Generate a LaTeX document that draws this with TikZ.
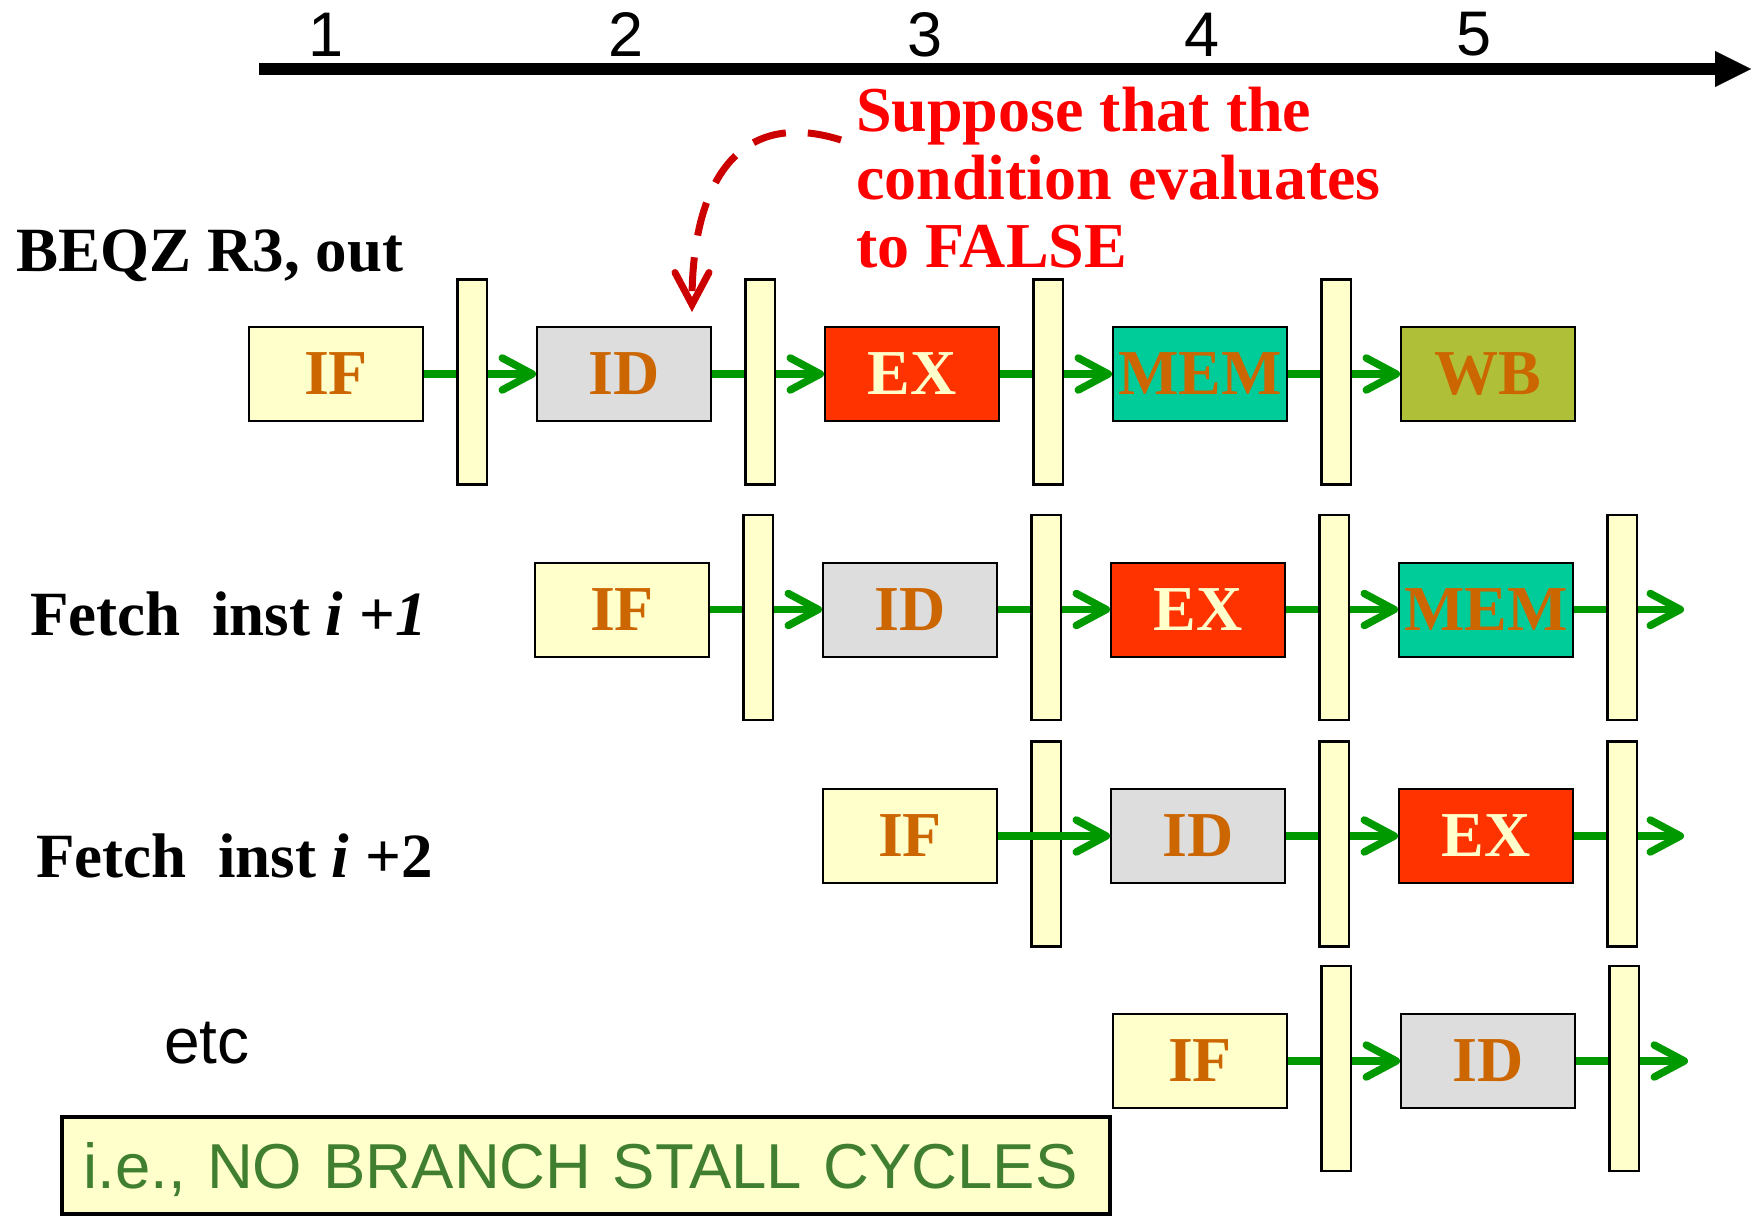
\documentclass[tikz,border=0pt]{standalone}
\usepackage{fontspec}
\setmainfont{Liberation Serif}
\setsansfont{Liberation Sans}
\usetikzlibrary{arrows.meta}
\definecolor{ifyel}{HTML}{FFFFCC}
\definecolor{idgray}{HTML}{DDDDDD}
\definecolor{exred}{HTML}{FF3300}
\definecolor{memgreen}{HTML}{00CC99}
\definecolor{wbolive}{HTML}{B0BF38}
\definecolor{stagetxt}{HTML}{CC6600}
\definecolor{arrgreen}{HTML}{009900}
\definecolor{notered}{HTML}{FF0000}
\definecolor{dashred}{HTML}{CC0000}
\definecolor{notegreen}{HTML}{3F7F2F}
\begin{document}
\begin{tikzpicture}[x=1pt,y=-1pt,
  stage/.style={draw=black, line width=2pt, minimum width=174pt, minimum height=94pt, inner sep=0pt,
    font=\fontsize{64}{64}\selectfont\bfseries, text=stagetxt},
  ifst/.style={stage, fill=ifyel},
  idst/.style={stage, fill=idgray},
  exst/.style={stage, fill=exred, text=ifyel},
  memst/.style={stage, fill=memgreen},
  wbst/.style={stage, fill=wbolive},
  latch/.style={draw=black, line width=2.5pt, fill=ifyel, minimum width=29.5pt, minimum height=205pt, inner sep=0pt},
  flow/.style={draw=arrgreen, line width=7.5pt, -{Straight Barb[length=30pt, width=32pt, line cap=round, line join=round]}},
  cyc/.style={font=\sffamily\fontsize{63}{63}\selectfont, inner sep=0pt},
  instlabel/.style={font=\fontsize{63}{68}\selectfont\bfseries, inner sep=0pt, anchor=base west},
  notetext/.style={font=\fontsize{64}{68}\selectfont\bfseries, text=notered, inner sep=0pt, anchor=base west},
]
\useasboundingbox (0,0) rectangle (1754,1217);

% time axis
\coordinate (t0) at (259,69);
\coordinate (t1) at (1751,69);
\draw[line width=12pt, -{Triangle[length=36pt, width=36pt, line width=0.1pt]}] (t0) -- (t1);
\node[cyc] (n1) at (326,34.5) {1};
\node[cyc] (n2) at (626,34.5) {2};
\node[cyc] (n3) at (925,34.5) {3};
\node[cyc] (n4) at (1202,34.5) {4};
\node[cyc] (n5) at (1474,34.5) {5};

% labels
\node[instlabel] (lbeqz) at (16,272) {BEQZ R3, out};
\node[instlabel] (lf1) at (30,635) {Fetch~~inst \textit{i} +\textit{1}};
\node[instlabel] (lf2) at (36,877) {Fetch~~inst \textit{i} +2};
\node[cyc, font=\sffamily\fontsize{64}{64}\selectfont, anchor=base west] (etc) at (164,1063) {etc};

\node[notetext] (r1) at (856,132) {Suppose that the};
\node[notetext] (r2) at (856,200) {condition evaluates};
\node[notetext] (r3) at (856,268) {to FALSE};

% row 1
\node[ifst]  (a1) at (336,374) {IF};
\node[idst]  (a2) at (624,374) {ID};
\node[exst]  (a3) at (912,374) {EX};
\node[memst] (a4) at (1200,374) {MEM};
\node[wbst]  (a5) at (1488,374) {WB};
\draw[flow] (a1) -- (a2);
\draw[flow] (a2) -- (a3);
\draw[flow] (a3) -- (a4);
\draw[flow] (a4) -- (a5);
\node[latch] (la1) at (472,382) {};
\node[latch] (la2) at (760,382) {};
\node[latch] (la3) at (1048,382) {};
\node[latch] (la4) at (1336,382) {};

% row 2
\node[ifst]  (b1) at (622,609.5) {IF};
\node[idst]  (b2) at (910,609.5) {ID};
\node[exst]  (b3) at (1198,609.5) {EX};
\node[memst] (b4) at (1486,609.5) {MEM};
\coordinate (be) at (1684,609.5);
\draw[flow] (b1) -- (b2);
\draw[flow] (b2) -- (b3);
\draw[flow] (b3) -- (b4);
\draw[flow] (b4) -- (be);
\node[latch] (lb1) at (758,617.5) {};
\node[latch] (lb2) at (1046,617.5) {};
\node[latch] (lb3) at (1334,617.5) {};
\node[latch] (lb4) at (1622,617.5) {};

% row 3
\node[ifst]  (c1) at (910,836) {IF};
\node[idst]  (c2) at (1198,836) {ID};
\node[exst]  (c3) at (1486,836) {EX};
\coordinate (ce) at (1684,836);
\draw[flow] (c2) -- (c3);
\draw[flow] (c3) -- (ce);
\node[latch] (lc1) at (1046,844) {};
\node[latch] (lc2) at (1334,844) {};
\node[latch] (lc3) at (1622,844) {};
\draw[flow] (c1) -- (c2);

% row 4
\node[ifst]  (d1) at (1200,1061) {IF};
\node[idst]  (d2) at (1488,1061) {ID};
\coordinate (de) at (1688,1061);
\draw[flow] (d1) -- (d2);
\draw[flow] (d2) -- (de);
\node[latch] (ld1) at (1336,1068.5) {};
\node[latch] (ld2) at (1624,1068.5) {};

% dashed red pointer
\coordinate (ds) at (841,140);
\coordinate (dt) at (692,312);
\draw[dashred, line width=7pt, dash pattern=on 34pt off 22pt,
  -{Straight Barb[length=32pt, width=34pt, line cap=round]}]
  (ds) .. controls (740,108) and (692,180) .. (dt);

% note box
\node[draw=black, line width=4pt, fill=ifyel, text width=1004pt, align=left,
  inner xsep=22pt, inner ysep=0pt, minimum height=97pt, text depth=0pt,
  font=\sffamily\fontsize{63.5}{63.5}\selectfont, text=notegreen] (note) at (585.6,1165.5)
  {i.e., NO BRANCH STALL CYCLES};
\end{tikzpicture}
\end{document}
